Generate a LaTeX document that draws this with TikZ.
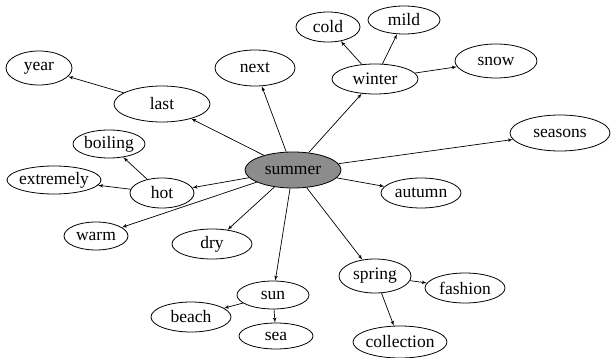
\documentclass[tikz,border=0pt]{standalone}
\usepackage{fontspec}
\setmainfont{Liberation Serif}
\usetikzlibrary{shapes.geometric, arrows, positioning}

\begin{document}
\begin{tikzpicture}[
    x=1pt, y=-1pt,
    word/.style={ellipse, draw, line width=0.8pt, inner ysep=0pt, inner xsep=-3pt, minimum height=30pt, font=\fontsize{17.5}{20}\selectfont},
    hub/.style={word, fill=black!45, minimum width=96pt, minimum height=36pt},
    arrow/.style={-latex', line width=0.7pt}
]
    \useasboundingbox (0,0) rectangle (612,358);
    % centre word
    \node [hub] (summer) at (293,170) {summer};
    % first ring
    \node [word, minimum width=96pt, minimum height=36pt] (last) at (162,104) {last};
    \node [word, minimum width=80pt, minimum height=36pt] (next) at (255,68) {next};
    \node [word, minimum width=86pt] (winter) at (375,79) {winter};
    \node [word, minimum width=100pt, minimum height=36pt] (seasons) at (560,133) {seasons};
    \node [word, minimum width=80pt] (autumn) at (421,193) {autumn};
    \node [word, minimum width=72pt, minimum height=34pt] (spring) at (375,276) {spring};
    \node [word, minimum width=72pt, minimum height=28pt] (sun) at (273,295) {sun};
    \node [word, minimum width=80pt] (dry) at (212,244) {dry};
    \node [word, minimum width=64pt, minimum height=28pt] (warm) at (96,236) {warm};
    \node [word, minimum width=64pt] (hot) at (162,193) {hot};
    % second ring
    \node [word, minimum width=66pt, minimum height=34pt] (year) at (39,68) {year};
    \node [word, minimum width=64pt] (cold) at (328,27) {cold};
    \node [word, minimum width=72pt, minimum height=28pt] (mild) at (404,20) {mild};
    \node [word, minimum width=82pt, minimum height=34pt] (snow) at (496,61) {snow};
    \node [word, minimum width=72pt, minimum height=28pt] (boiling) at (109,144) {boiling};
    \node [word, minimum width=94pt, minimum height=28pt] (extremely) at (54,180) {extremely};
    \node [word, minimum width=80pt] (beach) at (191,317) {beach};
    \node [word, minimum width=74pt, minimum height=26pt] (sea) at (276,336) {sea};
    \node [word, minimum width=80pt] (fashion) at (465,288) {fashion};
    \node [word, minimum width=94pt, minimum height=32pt] (collection) at (400,342) {collection};

    \draw [arrow] (summer) -- (last);
    \draw [arrow] (summer) -- (next);
    \draw [arrow] (summer) -- (winter);
    \draw [arrow] (summer) -- (seasons);
    \draw [arrow] (summer) -- (autumn);
    \draw [arrow] (summer) -- (spring);
    \draw [arrow] (summer) -- (sun);
    \draw [arrow] (summer) -- (dry);
    \draw [arrow] (summer) -- (warm);
    \draw [arrow] (summer) -- (hot);
    \draw [arrow] (last) -- (year);
    \draw [arrow] (winter) -- (cold);
    \draw [arrow] (winter) -- (mild);
    \draw [arrow] (winter) -- (snow);
    \draw [arrow] (hot) -- (boiling);
    \draw [arrow] (hot) -- (extremely);
    \draw [arrow] (sun) -- (beach);
    \draw [arrow] (sun) -- (sea);
    \draw [arrow] (spring) -- (fashion);
    \draw [arrow] (spring) -- (collection);
\end{tikzpicture}
\end{document}
